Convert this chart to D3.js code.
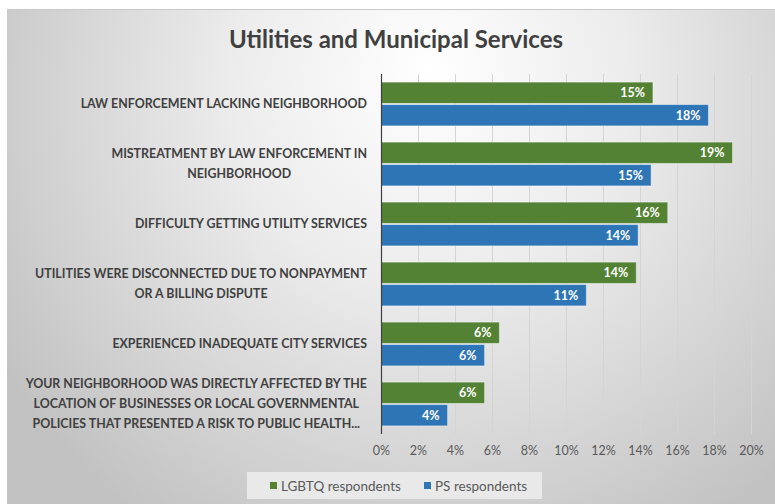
<!DOCTYPE html>
<html>
<head>
<meta charset="utf-8">
<script src="https://cdn.jsdelivr.net/npm/d3@7"></script>
<style>
  html, body { margin: 0; padding: 0; background: #ffffff; }
  svg { display: block; }
</style>
</head>
<body>
<svg id="chart" width="775" height="504"></svg>
<script>
// Survey categories (each entry is one wrapped label, top to bottom)
const categories = [
  ["LAW ENFORCEMENT LACKING NEIGHBORHOOD"],
  ["MISTREATMENT BY LAW ENFORCEMENT IN", "NEIGHBORHOOD"],
  ["DIFFICULTY GETTING UTILITY SERVICES"],
  ["UTILITIES WERE DISCONNECTED DUE TO NONPAYMENT", "OR A BILLING DISPUTE"],
  ["EXPERIENCED INADEQUATE CITY SERVICES"],
  ["YOUR NEIGHBORHOOD WAS DIRECTLY AFFECTED BY THE", "LOCATION OF BUSINESSES OR LOCAL GOVERNMENTAL", "POLICIES THAT PRESENTED A RISK TO PUBLIC HEALTH..."]
];
const seriesNames = ["LGBTQ respondents", "PS respondents"];
const lgbtqValues = [0.147, 0.190, 0.155, 0.138, 0.064, 0.056];
const psValues    = [0.177, 0.146, 0.139, 0.111, 0.056, 0.036];
const xTicks = [0, 0.02, 0.04, 0.06, 0.08, 0.10, 0.12, 0.14, 0.16, 0.18, 0.20];
const seriesColors = ["#548235", "#2e75b6"];

const svg = d3.select("#chart");
const W = 775, H = 504;
const FONT = "Lato, 'Open Sans', sans-serif";

// Panel background with soft radial shading
const defs = svg.append("defs");
const grad = defs.append("radialGradient")
  .attr("id", "bg").attr("gradientUnits", "userSpaceOnUse")
  .attr("cx", 430).attr("cy", 110).attr("r", 500)
  .attr("fx", 430).attr("fy", 70);
grad.append("stop").attr("offset", "0%").attr("stop-color", "#ffffff");
grad.append("stop").attr("offset", "40%").attr("stop-color", "#ececec");
grad.append("stop").attr("offset", "100%").attr("stop-color", "#c2c2c2");

svg.append("rect").attr("x", 7).attr("y", 9).attr("width", W - 7).attr("height", H - 9)
  .attr("fill", "url(#bg)");
svg.append("line").attr("x1", 7).attr("x2", W).attr("y1", 9.5).attr("y2", 9.5)
  .attr("stroke", "#c8c8c8").attr("stroke-width", 1);

// Title
svg.append("text")
  .attr("x", 396).attr("y", 48)
  .attr("text-anchor", "middle")
  .attr("font-family", FONT).attr("font-weight", 700)
  .attr("font-size", 24).attr("fill", "#404040")
  .text("Utilities and Municipal Services");

// Scales
const x = d3.scaleLinear().domain([0, 0.20]).range([381, 751]);
const y = d3.scaleBand().domain(d3.range(categories.length))
  .range([74, 434]).paddingInner(0.27).paddingOuter(0.135);
const ySub = d3.scaleBand().domain(seriesNames).range([0, y.bandwidth()]).paddingInner(0.05);

// Vertical gridlines
svg.append("g").selectAll("line").data(xTicks.slice(1)).join("line")
  .attr("x1", d => Math.round(x(d)) + 0.5).attr("x2", d => Math.round(x(d)) + 0.5)
  .attr("y1", 74).attr("y2", 434)
  .attr("stroke", "#d4d4d4").attr("stroke-width", 1);

// X axis labels (percent ticks)
const xAxis = d3.axisBottom(x).tickValues(xTicks).tickFormat(d3.format(".0%")).tickSize(0).tickPadding(0);
const gx = svg.append("g").attr("transform", "translate(0,446)").call(xAxis);
gx.select(".domain").remove();
gx.selectAll("text")
  .attr("font-family", FONT).attr("font-size", 12.5).attr("fill", "#595959");

// Bars
const rows = categories.map((c, i) => ({ i, values: [lgbtqValues[i], psValues[i]] }));
const groups = svg.append("g").selectAll("g").data(rows).join("g")
  .attr("transform", d => `translate(0,${y(d.i)})`);

const fmt = d3.format(".0%");
groups.selectAll("rect").data(d => d.values.map((v, k) => ({ v, k }))).join("rect")
  .attr("x", x(0))
  .attr("y", d => ySub(seriesNames[d.k]))
  .attr("width", d => x(d.v) - x(0))
  .attr("height", ySub.bandwidth())
  .attr("fill", d => seriesColors[d.k])
  .attr("stroke", "rgba(255,255,255,0.45)").attr("stroke-width", 1);

groups.selectAll("text.val").data(d => d.values.map((v, k) => ({ v, k }))).join("text")
  .attr("class", "val")
  .attr("x", d => x(d.v) - 8)
  .attr("y", d => ySub(seriesNames[d.k]) + ySub.bandwidth() / 2)
  .attr("dy", "0.36em")
  .attr("text-anchor", "end")
  .attr("font-family", FONT).attr("font-weight", 700)
  .attr("font-size", 12.5).attr("fill", "#ffffff")
  .text(d => fmt(d.v));

// Zero axis line
svg.append("line")
  .attr("x1", x(0) + 0.5).attr("x2", x(0) + 0.5).attr("y1", 74).attr("y2", 434)
  .attr("stroke", "#404040").attr("stroke-width", 1.2);

// Category labels: lines centred within each block, block right-aligned to the axis
const labelRight = 367;
const lineH = 20;
categories.forEach((lines, i) => {
  const cy = y(i) + y.bandwidth() / 2;
  const g = svg.append("g");
  const texts = lines.map((ln, j) => g.append("text")
    .attr("y", cy + (j - (lines.length - 1) / 2) * lineH)
    .attr("dy", "0.36em")
    .attr("text-anchor", "middle")
    .attr("font-family", FONT).attr("font-weight", 700)
    .attr("font-size", 12.4).attr("fill", "#404040")
    .text(ln));
  const maxW = d3.max(texts, t => t.node().getComputedTextLength());
  texts.forEach(t => t.attr("x", labelRight - maxW / 2));
});

// Legend
const legend = svg.append("g");
legend.append("rect").attr("x", 247).attr("y", 472).attr("width", 295).attr("height", 27)
  .attr("fill", "#e9e9e9");
const legendItems = [{ name: seriesNames[0], c: seriesColors[0], x: 270 }, { name: seriesNames[1], c: seriesColors[1], x: 424 }];
legendItems.forEach(it => {
  legend.append("rect").attr("x", it.x).attr("y", 482).attr("width", 7).attr("height", 7).attr("fill", it.c);
  legend.append("text").attr("x", it.x + 11).attr("y", 486).attr("dy", "0.36em")
    .attr("font-family", FONT).attr("font-size", 13.5).attr("fill", "#595959")
    .text(it.name);
});
</script>
</body>
</html>
